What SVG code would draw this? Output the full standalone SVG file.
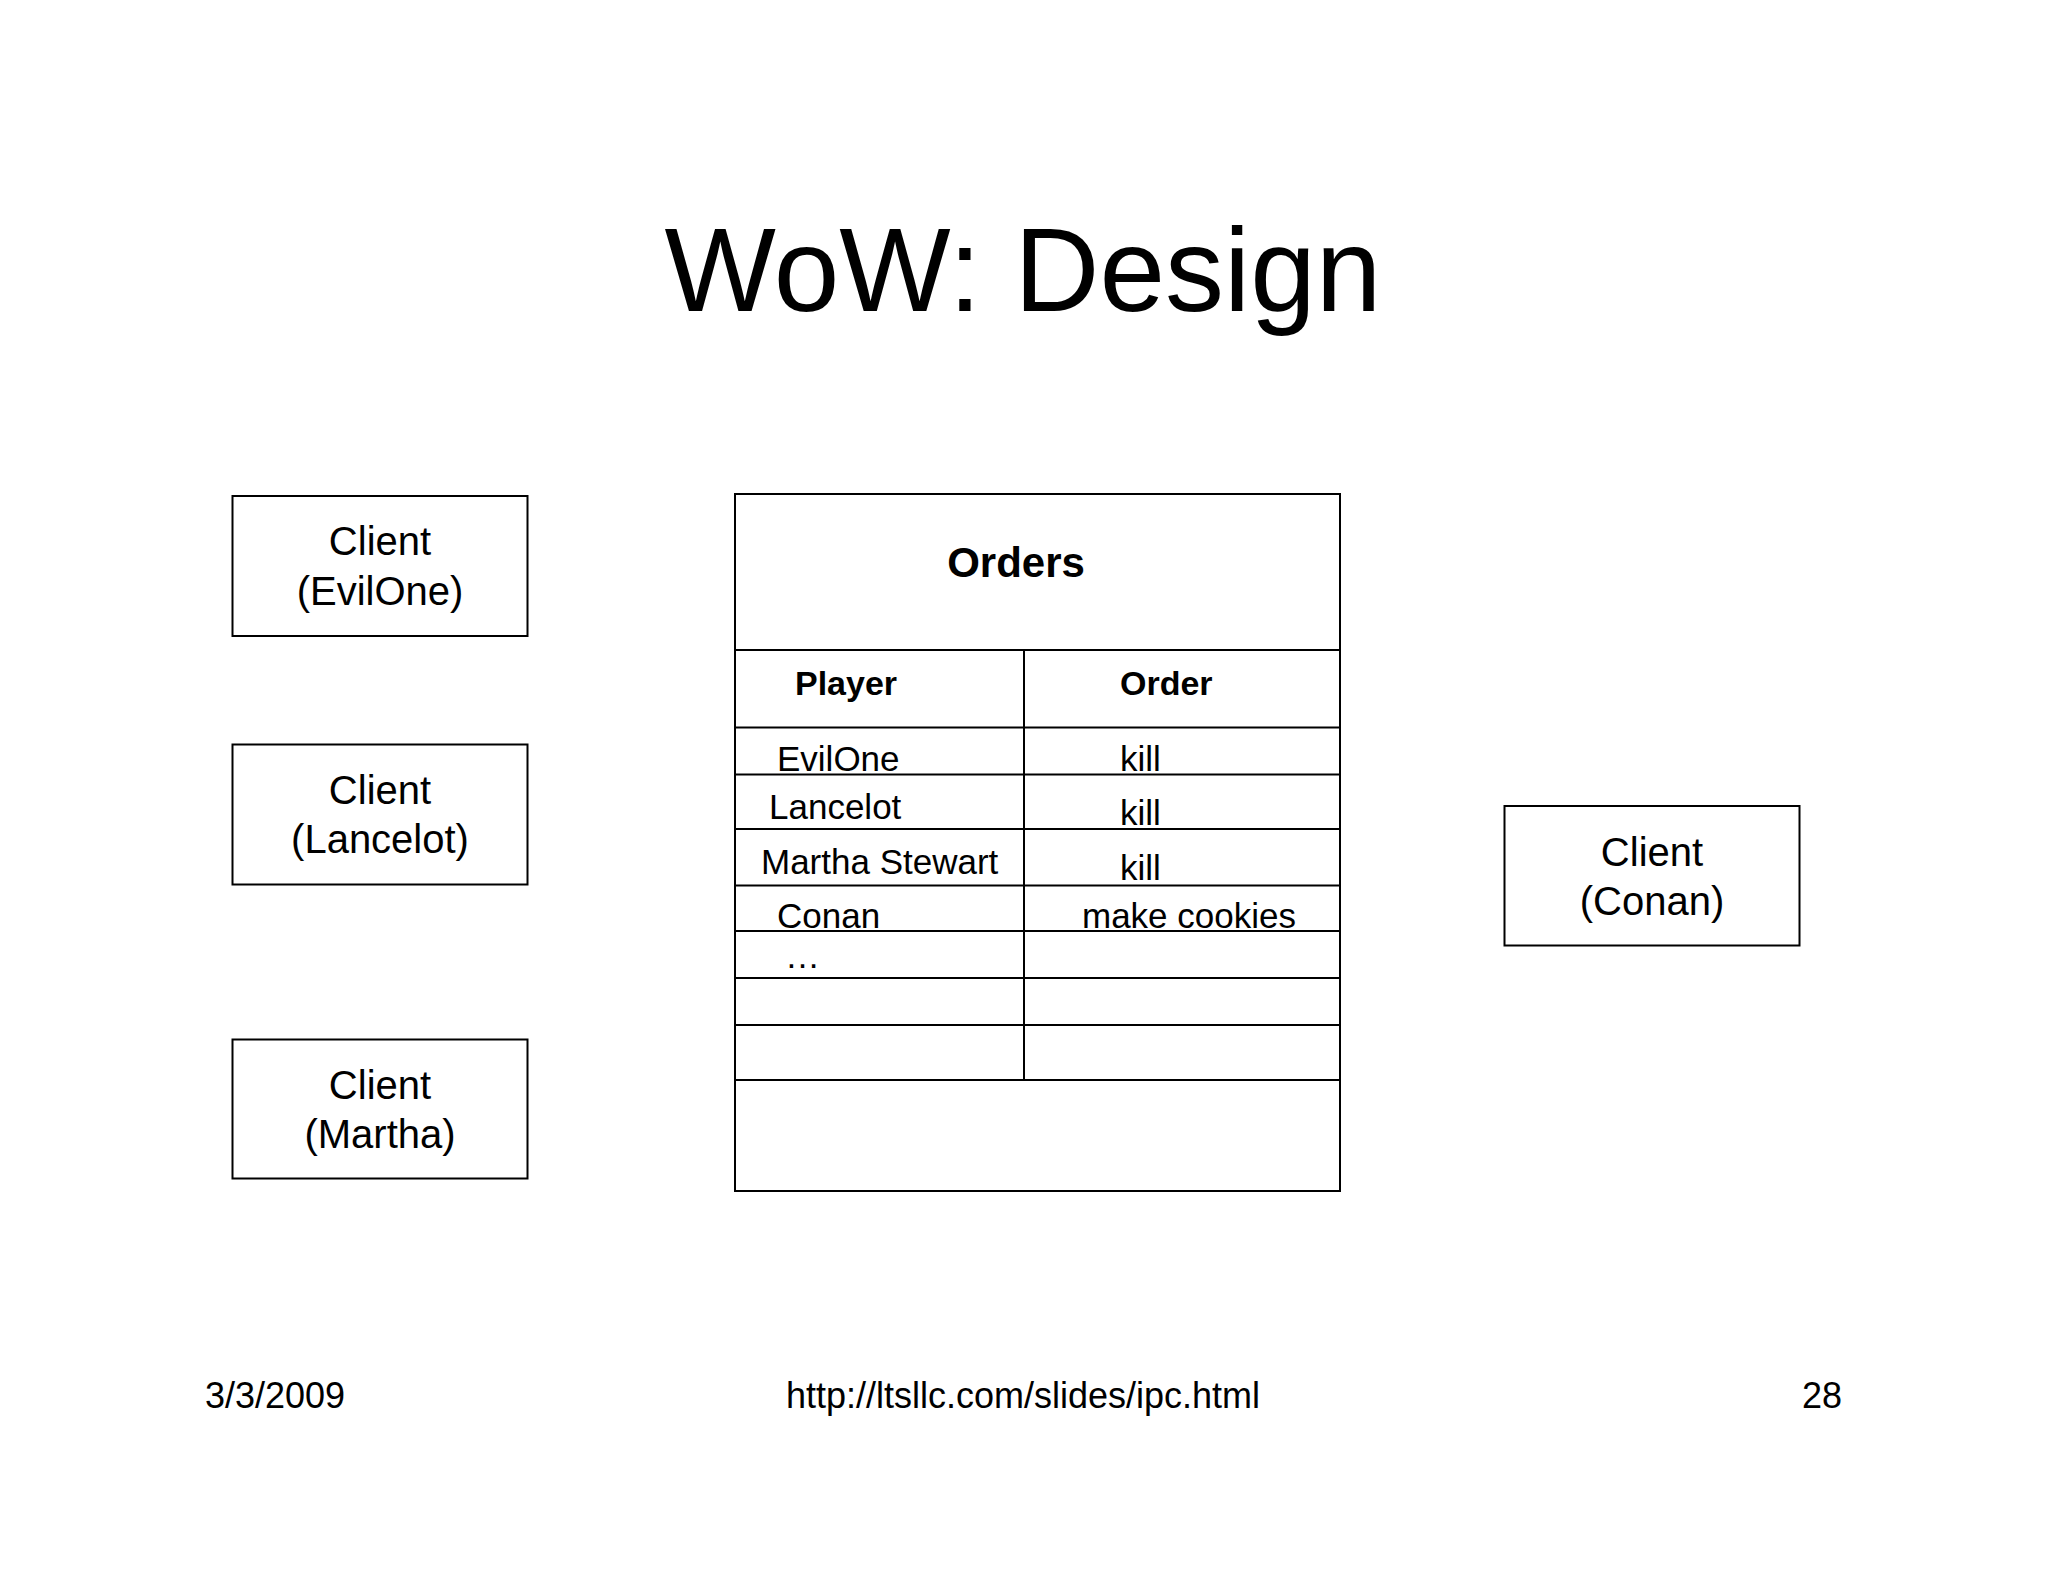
<svg xmlns="http://www.w3.org/2000/svg" width="2048" height="1582" viewBox="0 0 2048 1582">
<style>
text{font-family:"Liberation Sans",Arial,sans-serif;fill:#000}
.b{fill:#fff;stroke:#000;stroke-width:2}
.l{stroke:#000;stroke-width:2}
.c{font-size:40px;text-anchor:middle}
.t{font-size:35px}
.h{font-size:34px;font-weight:bold}
.f{font-size:36px}
</style>
<rect width="2048" height="1582" fill="#fff"/>
<text x="1023" y="311" font-size="118" text-anchor="middle">WoW: Design</text>
<g id="client-evilone"><rect class="b" x="232.5" y="496" width="295" height="140"/><text class="c" x="380" y="555">Client</text><text class="c" x="380" y="605">(EvilOne)</text></g>
<g id="client-lancelot"><rect class="b" x="232.5" y="744.5" width="295" height="140"/><text class="c" x="380" y="804">Client</text><text class="c" x="380" y="853">(Lancelot)</text></g>
<g id="client-martha"><rect class="b" x="232.5" y="1039.5" width="295" height="139"/><text class="c" x="380" y="1099">Client</text><text class="c" x="380" y="1148">(Martha)</text></g>
<g id="client-conan"><rect class="b" x="1504.5" y="806" width="295" height="139.5"/><text class="c" x="1652" y="866">Client</text><text class="c" x="1652" y="915">(Conan)</text></g>
<g id="orders">
<rect class="b" x="735" y="494" width="605" height="697"/>
<g class="l"><line x1="735" y1="650" x2="1340" y2="650"/><line x1="735" y1="727.5" x2="1340" y2="727.5"/><line x1="735" y1="774.5" x2="1340" y2="774.5"/><line x1="735" y1="829" x2="1340" y2="829"/><line x1="735" y1="885.5" x2="1340" y2="885.5"/><line x1="735" y1="931" x2="1340" y2="931"/><line x1="735" y1="978" x2="1340" y2="978"/><line x1="735" y1="1025" x2="1340" y2="1025"/><line x1="735" y1="1080" x2="1340" y2="1080"/><line x1="1024" y1="650" x2="1024" y2="1080"/></g>
<text x="1016" y="577" font-size="42" font-weight="bold" text-anchor="middle">Orders</text>
<text class="h" x="795" y="695">Player</text><text class="h" x="1120" y="695">Order</text>
<text class="t" x="777" y="771">EvilOne</text><text class="t" x="1120" y="771">kill</text>
<text class="t" x="769" y="819">Lancelot</text><text class="t" x="1120" y="825">kill</text>
<text class="t" x="761" y="874">Martha Stewart</text><text class="t" x="1120" y="880">kill</text>
<text class="t" x="777" y="928">Conan</text><text class="t" x="1082" y="928">make cookies</text>
<text class="t" x="785" y="968">…</text>
</g>
<text class="f" x="205" y="1408">3/3/2009</text>
<text class="f" x="1023" y="1408" text-anchor="middle">http://ltsllc.com/slides/ipc.html</text>
<text class="f" x="1842" y="1408" text-anchor="end">28</text>
</svg>
